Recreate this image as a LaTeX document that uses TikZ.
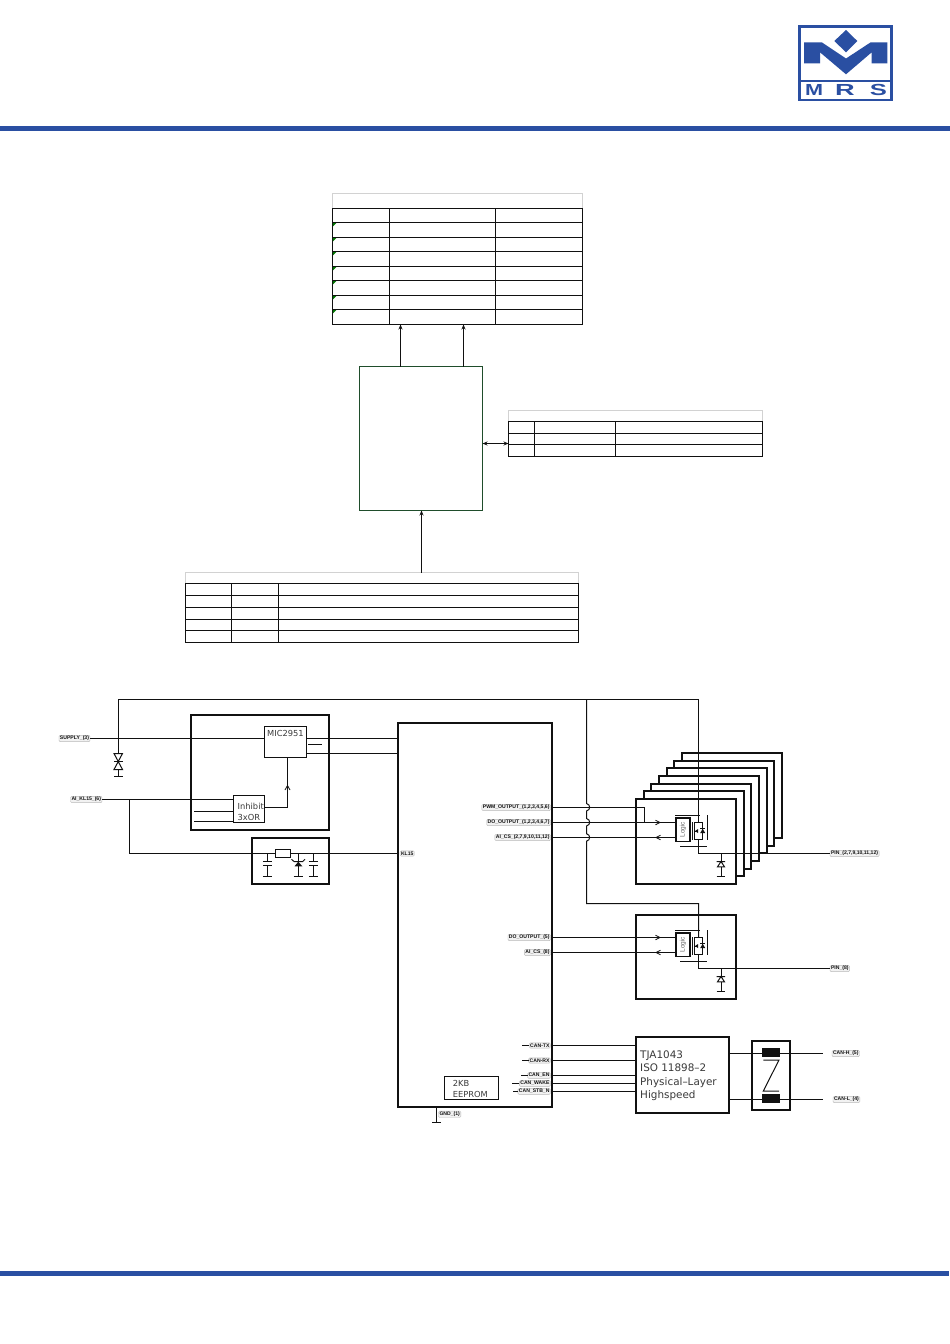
\documentclass[tikz,border=0pt]{standalone}
\usepackage{fontspec}
\setmainfont{Liberation Sans}
\newfontfamily\cadfont{DejaVu Sans}
\usetikzlibrary{calc,arrows.meta}
\definecolor{mrsblue}{HTML}{2A4FA2}
\definecolor{ecugreen}{HTML}{1F4D2B}
\definecolor{tabgray}{HTML}{D2D2D2}
\definecolor{ink}{HTML}{111111}
\definecolor{cadtext}{HTML}{3A3A3A}
\tikzset{
  wire/.style={draw=ink,line width=1pt},
  thickbox/.style={draw=ink,line width=2pt,fill=white,inner sep=0pt,outer sep=0pt},
  thinbox/.style={draw=ink,line width=1pt,fill=white,inner sep=0pt,outer sep=0pt},
  tablebox/.style={draw=ink,line width=1pt,inner sep=0pt,outer sep=0pt},
  titlebox/.style={draw=tabgray,line width=1pt,inner sep=0pt,outer sep=0pt},
  ecubox/.style={draw=ecugreen,line width=1pt,fill=white,inner sep=0pt,outer sep=0pt},
  tabline/.style={draw=ink,line width=1pt},
  flow/.style={draw=ink,line width=1pt,-{Stealth[length=5pt,width=4pt]}},
  flowboth/.style={draw=ink,line width=1pt,{Stealth[length=5pt,width=4pt]}-{Stealth[length=5pt,width=4pt]}},
  sig/.style={draw=gray!55,fill=gray!10,line width=0.4pt,rounded corners=1.2pt,inner xsep=1pt,inner ysep=0.8pt,
     font=\fontsize{5.1}{6}\selectfont\bfseries,text=ink,outer sep=0pt},
  cad/.style={font=\cadfont\fontsize{8.3}{9}\selectfont,text=cadtext,inner sep=0pt,anchor=base west},
  cadbig/.style={font=\cadfont\fontsize{10.4}{11}\selectfont,text=cadtext,inner sep=0pt,anchor=base west},
  chev/.style={draw=ink,line width=0.8pt},
}
\newcommand\blk[6]{%
  \pgfmathsetmacro\blkw{#5-#3}\pgfmathsetmacro\blkh{#6-#4}%
  \node[#1,minimum width=\blkw pt,minimum height=\blkh pt,anchor=north west] (#2) at (#3,#4) {};}
% low-side power stage; #1 name prefix, #2 vertical shift
\newcommand\fetstage[2]{%
 \begin{scope}[shift={(0,#2)}]
  \node[thinbox,draw=ink,line width=1.1pt,minimum width=14pt,minimum height=23.5pt,anchor=north west] (#1logic) at (676,818) {};
  \node[rotate=90,font=\fontsize{6.5}{7}\selectfont,text=gray!80!black,inner sep=0pt] at (#1logic.center) {Logic};
  \draw[wire] (675,815.5) -- (700,815.5);
  \draw[wire] (707.5,815) -- (707.5,840);
  \draw[wire] (680,846.5) -- (706.7,846.5);
  \draw[wire] (692.5,822) -- (692.5,840);
  \draw[wire] (694.7,822) -- (694.7,840);
  \draw[wire] (694.7,822.5) -- (702.5,822.5) -- (702.5,839.5) -- (694.7,839.5);
  \draw[wire,line width=0.7pt] (694.7,831) -- (698.3,831);
  \fill[ink] (695,831) -- (698,829) -- (698,833) -- cycle;
  \fill[ink] (700.2,833) -- (705.2,833) -- (702.7,828.8) -- cycle;
  \draw[wire,line width=0.7pt] (700,828.5) -- (705.4,828.5);
  \draw[wire] (721,853.5) -- (721,876);
  \fill[white] (717,861.5) rectangle (725,867);
  \draw[wire] (716.7,861.5) -- (725,861.5) (721,861.5) -- (717.5,866.8) -- (724.5,866.8) -- cycle;
  \draw[wire] (716.7,876) -- (725.3,876);
  \draw[chev] (655.5,820.2) -- (660,822.5) -- (655.5,824.8);
  \draw[chev] (660.5,835.2) -- (656,837.5) -- (660.5,839.8);
 \end{scope}}
\newcommand\capsym[1]{%
  \draw[wire] (#1,853.5) -- (#1,861.5) (#1,865.5) -- (#1,876.5);
  \draw[wire] (#1-4.7,861.5) -- (#1+4.7,861.5) (#1-4.7,865.5) -- (#1+4.7,865.5) (#1-4.7,876.5) -- (#1+4.7,876.5);}
\begin{document}
\begin{tikzpicture}[x=1pt,y=-1pt]
\useasboundingbox (0,0) rectangle (950,1344);
\fill[white] (0,0) rectangle (950,1344);
% page bands
\fill[mrsblue] (0,126) rectangle (950,131);
\fill[mrsblue] (0,1271) rectangle (949,1275.5);
% logo
\draw[mrsblue,line width=2.6pt] (799.2,26.5) rectangle (891.5,100);
\fill[mrsblue] (799,80) rectangle (892,82);
\fill[mrsblue] (804,42.3) -- (821.7,42.3) -- (846,58.5) -- (870.7,42.3) -- (887.3,42.3) -- (887.3,63.3) -- (871.7,63.3) -- (871.7,52.3) -- (846,74.3) -- (820,52.3) -- (820,63.3) -- (804,63.3) -- cycle;
\fill[mrsblue] (846,30) -- (857.3,41) -- (846,52.3) -- (834.3,41) -- cycle;
\node[font=\fontsize{16}{16}\selectfont\bfseries,text=mrsblue,inner sep=0pt,xscale=1.35] (logoM) at (814.2,89.5) {M};
\node[font=\fontsize{16}{16}\selectfont\bfseries,text=mrsblue,inner sep=0pt,xscale=1.7] (logoR) at (845,89.5) {R};
\node[font=\fontsize{16}{16}\selectfont\bfseries,text=mrsblue,inner sep=0pt,xscale=1.6] (logoS) at (878.5,89.5) {S};
% top table
\blk{titlebox}{tAt}{332.5}{193.5}{582.5}{208.5}
\blk{tablebox}{tA}{332.5}{208.5}{582.5}{324.5}
\foreach \yy in {222.5,237.5,251.5,266.5,280.5,295.5,309.5}{\draw[tabline] (tA.west |- 0,\yy) -- (tA.east |- 0,\yy);}
\foreach \xx in {389.5,495.5}{\draw[tabline] (\xx,0 |- tA.north) -- (\xx,0 |- tA.south);}
\foreach \yy in {222.5,237.5,251.5,266.5,280.5,295.5,309.5}{\fill[green!45!black] (332.8,\yy+0.5) -- (336.3,\yy+0.5) -- (332.8,\yy+4) -- cycle;}
% ECU block
\blk{ecubox}{ecu}{359.5}{366.5}{482.5}{510.5}
\coordinate (upA) at (400.5,340);
\coordinate (upB) at (463.5,340);
\draw[flow] (upA |- ecu.north) -- (upA |- tA.south);
\draw[flow] (upB |- ecu.north) -- (upB |- tA.south);
% right table
\blk{titlebox}{tBt}{508.5}{410.5}{762.5}{421.5}
\blk{tablebox}{tB}{508.5}{421.5}{762.5}{456.5}
\foreach \yy in {433.5,444.5}{\draw[tabline] (tB.west |- 0,\yy) -- (tB.east |- 0,\yy);}
\foreach \xx in {534.5,615.5}{\draw[tabline] (\xx,0 |- tB.north) -- (\xx,0 |- tB.south);}
\coordinate (sideY) at (495,443.5);
\draw[flowboth] (ecu.east |- sideY) -- (tB.west |- sideY);
% lower table
\blk{titlebox}{tCt}{185.5}{572.5}{578.5}{583.5}
\blk{tablebox}{tC}{185.5}{583.5}{578.5}{642.5}
\foreach \yy in {595.5,607.5,619.5,630.5}{\draw[tabline] (tC.west |- 0,\yy) -- (tC.east |- 0,\yy);}
\foreach \xx in {231.5,278.5}{\draw[tabline] (\xx,0 |- tC.north) -- (\xx,0 |- tC.south);}
\coordinate (upC) at (421.5,540);
\draw[flow] (upC |- tCt.north) -- (upC |- ecu.south);
% ---------- schematic ----------
\blk{thickbox}{reg}{191}{715}{329}{830}
\blk{thickbox}{flt}{252}{838}{329}{884}
\blk{thickbox}{mcu}{398}{723}{552}{1107}
% output stack
\foreach \k in {6,5,...,1}{
  \pgfmathsetmacro\xa{636+round(7.67*\k)}\pgfmathsetmacro\ya{799-round(7.67*\k)}
  \pgfmathsetmacro\xb{736+round(7.67*\k)}\pgfmathsetmacro\yb{884-round(7.67*\k)}
  \blk{thickbox}{stack\k}{\xa}{\ya}{\xb}{\yb}
}
\blk{thickbox}{out}{636}{799}{736}{884}
\blk{thickbox}{outB}{636}{915}{736}{999}
\blk{thickbox}{tja}{636}{1037}{729}{1113}
\blk{thickbox}{choke}{752}{1041}{790}{1110}
\blk{thinbox}{mic}{264.5}{726.5}{306.5}{757.5}
\blk{thinbox}{inh}{233.5}{795.5}{264.5}{822.5}
\blk{thinbox}{eep}{444.5}{1076.5}{498.5}{1099.5}
\node[cad] (micT) at (267,736) {MIC2951};
\node[cad] (inhT) at (237.5,809.7) {Inhibit};
\node[cad] (orT) at (237.5,820.7) {3xOR};
\node[cad] (eepA) at (452.7,1086) {2KB};
\node[cad] (eepB) at (452.7,1097.2) {EEPROM};
\node[cadbig] (t1) at (640,1058) {TJA1043};
\node[cadbig] (t2) at (640,1071.5) {ISO 11898–2};
\node[cadbig] (t3) at (640,1085) {Physical–Layer};
\node[cadbig] (t4) at (640,1098.5) {Highspeed};
% signal labels
\node[sig,anchor=east] (sSupply) at (90,738.5) {SUPPLY\_(3)};
\node[sig,anchor=east] (sKl) at (102,799.5) {AI\_KL15\_(6)};
\node[sig,anchor=west] (sKli) at (400,853.5) {KL15};
\node[sig,anchor=east] (sPwm) at (550.5,807.5) {PWM\_OUTPUT\_(1,2,3,4,5,6)};
\node[sig,anchor=east] (sDo) at (550.5,822.5) {DO\_OUTPUT\_(1,2,3,4,6,7)};
\node[sig,anchor=east] (sCs) at (550.5,837.5) {AI\_CS\_(2,7,9,10,11,12)};
\node[sig,anchor=east] (sDoB) at (550.5,937.5) {DO\_OUTPUT\_(5)};
\node[sig,anchor=east] (sCsB) at (550.5,952.5) {AI\_CS\_(8)};
\node[sig,anchor=west] (sPin) at (830,853.5) {PIN\_(2,7,9,10,11,12)};
\node[sig,anchor=west] (sPinB) at (830,968.5) {PIN\_(8)};
\node[sig,anchor=east] (sTx) at (550.5,1045.5) {CAN-TX};
\node[sig,anchor=east] (sRx) at (550.5,1060.5) {CAN-RX};
\node[sig,anchor=east] (sEn) at (550.5,1075.5) {CAN\_EN};
\node[sig,anchor=east] (sWake) at (550.5,1083.5) {CAN\_WAKE};
\node[sig,anchor=east] (sStb) at (550.5,1091.5) {CAN\_STB\_N};
\node[sig,anchor=west] (sGnd) at (438.5,1114.3) {GND\_(1)};
\node[sig,anchor=west] (sH) at (832,1053.5) {CAN-H\_(5)};
\node[sig,anchor=west] (sL) at (833,1099.5) {CAN-L\_(4)};
% stubs of CAN labels
\draw[wire] (sTx.west) -- ++(-7,0);
\draw[wire] (sRx.west) -- ++(-7,0);
\draw[wire] (sEn.west) -- ++(-7,0);
\draw[wire] (sWake.west) -- ++(-7,0);
\draw[wire] (sStb.west) -- ++(-5,0);
% supply wires
\coordinate (railL) at (118.5,699.5);
\coordinate (railM) at (586.5,699.5);
\coordinate (railR) at (698.5,699.5);
\coordinate (tvsG) at (118.5,776);
\draw[wire] (tvsG) -- (railL) -- (railR) -- (698.5,822.5);
\draw[wire] (698.5,839.5) -- (698.5,853.5) -- (sPin.west);
\draw[wire] (railM) -- (586.5,803.5)
  .. controls (590.7,804.5) and (590.7,810) .. (586.5,811) -- (586.5,818.5)
  .. controls (590.7,819.5) and (590.7,825) .. (586.5,826) -- (586.5,833.7)
  .. controls (590.7,834.7) and (590.7,840.2) .. (586.5,841.2)
  -- (586.5,903.5) -- (698.5,903.5) -- (698.5,937.5);
\draw[wire] (698.5,954.5) -- (698.5,968.5) -- (sPinB.west);
% TVS
\fill[white] (114,753.3) rectangle (122.5,769.3);
\draw[wire] (114,753.5) -- (122.5,753.5) -- (114,769.5) -- (122.5,769.5) -- cycle;
\draw[wire] (114,761.5) -- (122.5,761.5);
\draw[wire] (114,776) -- (122.5,776);
% regulator wires
\draw[wire] (sSupply.east) -- (mic.west |- sSupply.east);
\draw[wire] (mic.east |- sSupply.east) -- (mcu.west |- sSupply.east);
\coordinate (micOut) at (340,753.5);
\draw[wire] (mic.east |- micOut) -- (mcu.west |- micOut);
\draw[wire] (308,744.5) -- (321.7,744.5);
\draw[wire] (sKl.east) -- (inh.west |- sKl.east);
\draw[wire] (194,811.5) -- (inh.west |- 0,811.5);
\draw[wire] (194,821.5) -- (inh.west |- 0,821.5);
\coordinate (inhUp) at (287.5,807.5);
\draw[wire] (inh.east |- inhUp) -- (inhUp) -- (inhUp |- mic.south);
\draw[chev] (285,790) -- (287.5,785.5) -- (290,790);
% KL15 input network
\coordinate (klBranch) at (129.5,853.5);
\draw[wire] (klBranch |- sKl.east) -- (klBranch) -- (mcu.west |- klBranch);
\blk{thinbox}{rser}{275.5}{849.5}{290.5}{857.5}
\capsym{267.5}
\capsym{313.5}
\draw[wire] (298.5,853.5) -- (298.5,876.5);
\draw[wire] (293.7,876.5) -- (303,876.5);
\fill[ink] (294.5,866.3) -- (302.3,866.3) -- (298.3,861.7) -- cycle;
\draw[wire] (291.5,859.3) -- (294.3,861.7) -- (302.5,861.7) -- (305,859.3);
% power stages
\fetstage{a}{0}
\fetstage{b}{115}
\coordinate (pwmTurn) at (644.5,807.5);
\draw[wire] (sPwm.east) -- (pwmTurn) -- (pwmTurn |- sDo.east);
\draw[wire] (sDo.east) -- (alogic.west |- sDo.east);
\draw[wire] (sCs.east) -- (alogic.west |- sCs.east);
\draw[wire] (sDoB.east) -- (blogic.west |- sDoB.east);
\draw[wire] (sCsB.east) -- (blogic.west |- sCsB.east);
% CAN
\draw[wire] (sTx.east) -- (tja.west |- sTx.east);
\draw[wire] (sRx.east) -- (tja.west |- sRx.east);
\draw[wire] (sEn.east) -- (tja.west |- sEn.east);
\draw[wire] (sWake.east) -- (tja.west |- sWake.east);
\draw[wire] (sStb.east) -- (tja.west |- sStb.east);
\coordinate (hEnd) at (822.7,1053.5);
\coordinate (lEnd) at (822.7,1099.5);
\draw[wire] (tja.east |- hEnd) -- (hEnd);
\draw[wire] (tja.east |- lEnd) -- (lEnd);
\fill[ink] (762.3,1048.3) rectangle (780,1057.3);
\fill[ink] (762.3,1094.3) rectangle (780,1103.3);
\draw[wire] (763.3,1060) -- (779,1060) -- (763.3,1091) -- (779,1091);
% ground of MCU
\coordinate (gndPt) at (436.5,1122);
\draw[wire] (gndPt |- mcu.south) -- (gndPt);
\draw[wire] (432,1122) -- (441,1122);
\end{tikzpicture}
\end{document}
